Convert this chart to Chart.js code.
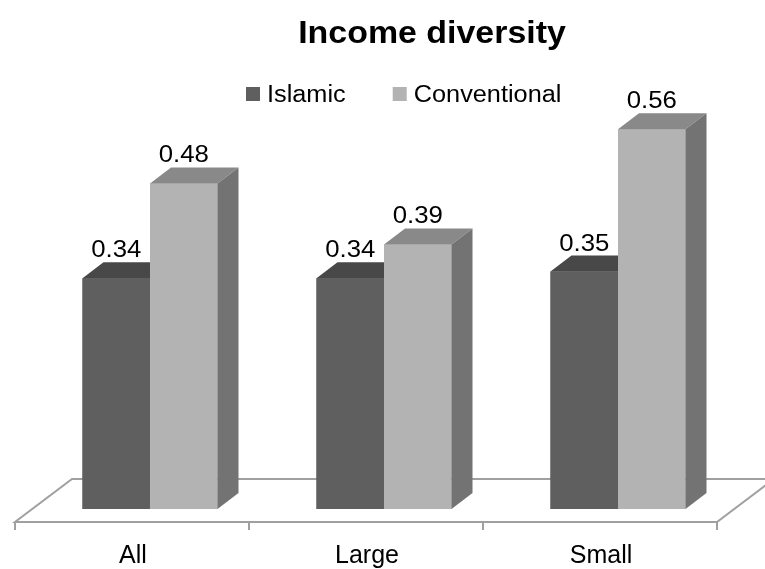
<!DOCTYPE html>
<html>
<head>
<meta charset="utf-8">
<script src="https://cdn.jsdelivr.net/npm/chart.js@4"></script>
<style>
  html, body { margin: 0; padding: 0; background: #fff; }
  #wrap { width: 765px; height: 569px; }
</style>
</head>
<body>
<div id="wrap"><canvas id="chart"></canvas></div>
<script>
// ===== data =====
const CATEGORIES = ["All", "Large", "Small"];
const ISLAMIC = [0.34, 0.34, 0.35];
const CONVENTIONAL = [0.48, 0.39, 0.56];
const SERIES_NAMES = ["Islamic", "Conventional"];
const TITLE = "Income diversity";

// 3D colours per series: front / top / side
const FACES = [
  { front: "#5f5f5f", top: "#484848", side: "#404040" },
  { front: "#b3b3b3", top: "#898989", side: "#737373" }
];
const FONT = "'Liberation Sans', Arial, sans-serif";
const DEPTH = { dx: 21, dy: 16 };      // bar depth
const FLOOR = { dx: 57, dy: 43, sx: -18, sy: 13 }; // floor depth + offset from bar base

// text slightly stretched horizontally, like the original export
function wideText(ctx, text, x, y, sx) {
  ctx.save();
  ctx.translate(x, y);
  ctx.scale(sx, 1);
  ctx.fillText(text, 0, 0);
  ctx.restore();
}

// draws floor under the bars
const floorPlugin = {
  id: "floor3d",
  beforeDatasetsDraw(chart) {
    const { ctx, chartArea, scales } = chart;
    const y0 = scales.y.getPixelForValue(0) + FLOOR.sy;
    const xl = chartArea.left + FLOOR.sx;
    const xr = chartArea.right + FLOOR.sx;
    ctx.save();
    ctx.strokeStyle = "#a0a0a0";
    ctx.lineWidth = 2;
    ctx.fillStyle = "#ffffff";
    ctx.beginPath();
    ctx.moveTo(xl, y0);
    ctx.lineTo(xr, y0);
    ctx.lineTo(xr + FLOOR.dx, y0 - FLOOR.dy);
    ctx.lineTo(xl + FLOOR.dx, y0 - FLOOR.dy);
    ctx.closePath();
    ctx.fill();
    ctx.stroke();
    // ticks at category boundaries
    const step = (xr - xl) / CATEGORIES.length;
    for (let i = 0; i <= CATEGORIES.length; i++) {
      const x = Math.round(xl + step * i);
      ctx.beginPath();
      ctx.moveTo(x, y0);
      ctx.lineTo(x, y0 + 8);
      ctx.stroke();
    }
    ctx.restore();
  }
};

// Chart.js paints dataset 0 last, so repaint in series order with top + side faces
const boxPlugin = {
  id: "box3d",
  afterDatasetsDraw(chart) {
    const { ctx } = chart;
    ctx.save();
    chart.data.datasets.forEach((ds, i) => {
      const f = FACES[i];
      chart.getDatasetMeta(i).data.forEach((bar) => {
        const { x, y, base, width } = bar.getProps(["x", "y", "base", "width"], true);
        const l = x - width / 2, r = x + width / 2;
        bar.draw(ctx, chart.chartArea);
        ctx.fillStyle = f.top;
        ctx.beginPath();
        ctx.moveTo(l, y);
        ctx.lineTo(r, y);
        ctx.lineTo(r + DEPTH.dx, y - DEPTH.dy);
        ctx.lineTo(l + DEPTH.dx, y - DEPTH.dy);
        ctx.closePath();
        ctx.fill();
        ctx.fillStyle = f.side;
        ctx.beginPath();
        ctx.moveTo(r, y);
        ctx.lineTo(r + DEPTH.dx, y - DEPTH.dy);
        ctx.lineTo(r + DEPTH.dx, base - DEPTH.dy);
        ctx.lineTo(r, base);
        ctx.closePath();
        ctx.fill();
      });
    });

    // value labels
    ctx.fillStyle = "#000";
    ctx.font = "23px " + FONT;
    ctx.textAlign = "center";
    ctx.textBaseline = "alphabetic";
    chart.data.datasets.forEach((ds, i) => {
      chart.getDatasetMeta(i).data.forEach((bar, j) => {
        wideText(ctx, ds.data[j].toFixed(2), bar.x, bar.y - DEPTH.dy - 5, 1.12);
      });
    });
    ctx.restore();
  }
};

// title + legend in the top band
const headerPlugin = {
  id: "header",
  afterDraw(chart) {
    const { ctx } = chart;
    ctx.save();
    ctx.fillStyle = "#000";
    ctx.textBaseline = "alphabetic";
    ctx.textAlign = "center";
    ctx.font = "bold 32px " + FONT;
    wideText(ctx, TITLE, 432, 43, 1.06);

    ctx.font = "23px " + FONT;
    ctx.textAlign = "left";
    let x = 246;
    chart.data.datasets.forEach((ds, i) => {
      ctx.fillStyle = FACES[i].front;
      ctx.fillRect(x, 87, 14, 14);
      ctx.fillStyle = "#000";
      wideText(ctx, ds.label, x + 21, 102, 1.1);
      x += 21 + ctx.measureText(ds.label).width * 1.1 + 47;
    });
    ctx.restore();
  }
};

new Chart(document.getElementById("chart"), {
  type: "bar",
  data: {
    labels: CATEGORIES,
    datasets: [
      { label: SERIES_NAMES[0], data: ISLAMIC, backgroundColor: FACES[0].front },
      { label: SERIES_NAMES[1], data: CONVENTIONAL, backgroundColor: FACES[1].front }
    ]
  },
  options: {
    responsive: true,
    maintainAspectRatio: false,
    animation: false,
    events: [],
    layout: { padding: { top: 102, left: 33, right: 30, bottom: 0 } },
    datasets: { bar: { barPercentage: 1, categoryPercentage: 0.577 } },
    plugins: { legend: { display: false }, title: { display: false }, tooltip: { enabled: false } },
    scales: {
      x: {
        grid: { display: false, drawTicks: false },
        border: { display: false },
        ticks: { color: "#000", font: { family: FONT, size: 25 }, padding: 32, labelOffset: -17 },
        afterFit(scale) { scale.height = 60; }
      },
      y: { display: false, min: 0, max: 0.6 }
    }
  },
  plugins: [floorPlugin, boxPlugin, headerPlugin]
});
</script>
</body>
</html>
